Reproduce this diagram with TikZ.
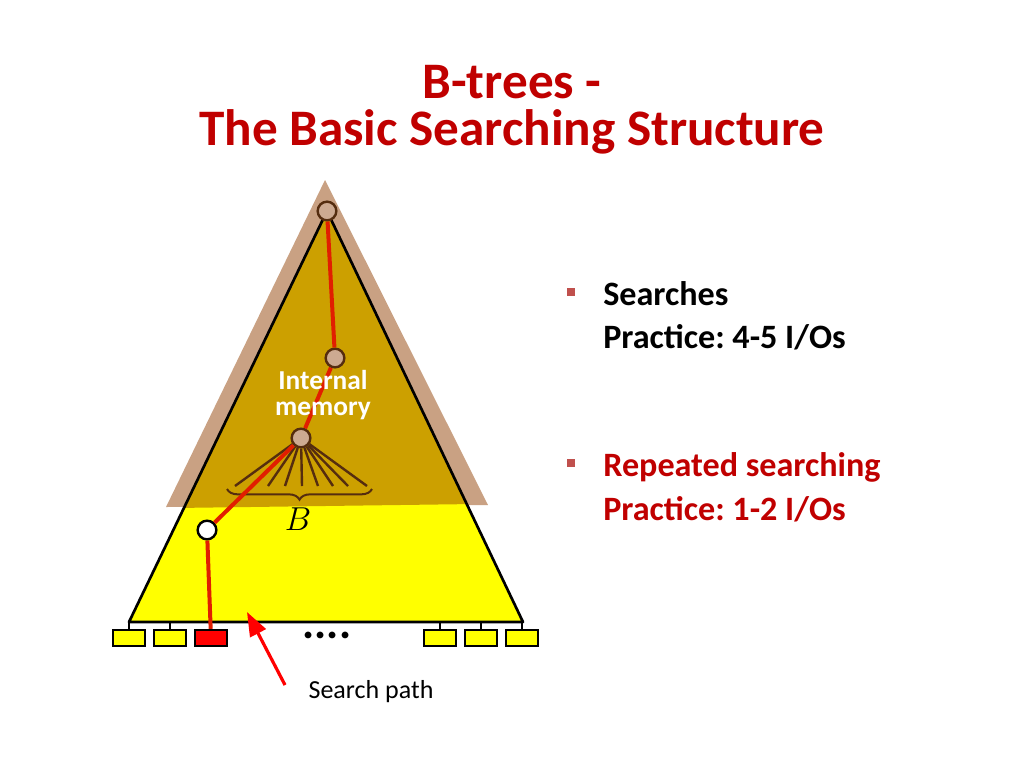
\documentclass[tikz,border=0pt]{standalone}
\usepackage{fontspec}
\setmainfont{Carlito}
\usetikzlibrary{arrows.meta,decorations.pathreplacing}
\definecolor{tanbg}{RGB}{201,161,131}
\definecolor{gold}{RGB}{204,160,0}
\definecolor{leafyellow}{RGB}{255,255,0}
\definecolor{darkbrown}{RGB}{85,45,15}
\definecolor{nodetan}{RGB}{205,170,145}
\definecolor{pathred}{RGB}{225,30,0}
\definecolor{titlered}{RGB}{192,0,0}
\definecolor{bulletred}{RGB}{192,80,77}
\frenchspacing
\begin{document}
\begin{tikzpicture}[x=0.75pt,y=-0.75pt,
  title/.style={anchor=base,text=titlered,font=\bfseries\fontsize{38.4}{46}\selectfont},
  bullettext/.style={anchor=base west,inner sep=0pt,font=\bfseries\fontsize{25.6}{30}\selectfont},
  bulletmark/.style={fill=bulletred,minimum size=6pt,inner sep=0pt},
  treenode/.style={circle,draw=darkbrown,fill=nodetan,line width=1.8pt,minimum size=14pt,inner sep=0pt},
  leafnode/.style={draw=black,fill=leafyellow,line width=1.8pt,minimum width=24pt,minimum height=12pt,inner sep=0pt},
  fanline/.style={draw=darkbrown,line width=1.8pt},
  pathline/.style={draw=pathred,line width=3pt}]
\useasboundingbox (0,0) rectangle (1024,768);

% title
\node[title] (ttl1) at (512,98) {B-trees -};
\node[title] (ttl2) at (512,145) {The Basic Searching Structure};

% tree outline and memory levels
\fill[tanbg] (325,180) -- (488,505) -- (166,507) -- cycle;
\fill[leafyellow] (327,211) -- (523,622) -- (129,622) -- cycle;
\begin{scope}
  \clip (327,211) -- (523,622) -- (129,622) -- cycle;
  \fill[gold] (100,150) -- (550,150) -- (550,503) -- (100,509) -- cycle;
\end{scope}
\draw[line width=2pt,line join=round] (327,211) -- (523,622) -- (129,622) -- cycle;

% leaves
\node[leafnode] (l1) at (129,638) {};
\node[leafnode] (l2) at (170,638) {};
\node[leafnode,fill=red] (hit) at (211,638) {};
\node[leafnode] (r3) at (440,638) {};
\node[leafnode] (r2) at (481,638) {};
\node[leafnode] (r1) at (522,638) {};
\foreach \l in {l1,l2,r3,r2,r1}
  \draw[line width=1.4pt] (\l.north) -- +(0,-8);
\node[anchor=base,font=\bfseries\fontsize{34}{34}\selectfont] (dots) at (327,638) {....};

% nodes on the search path
\node[treenode] (root) at (327,211) {};
\node[treenode] (mid) at (335,358) {};
\node[treenode] (inner) at (301,438) {};
\node[treenode,draw=black,fill=white] (low) at (207,530) {};

% fan of children
\foreach \x in {235,268,285,302,318,333,348,367}
  \draw[fanline] (inner) -- (\x,486);
\draw[darkbrown,line width=1.5pt,decorate,decoration={brace,mirror,amplitude=8pt}] (227,489) -- (372,489);
\node[font=\fontsize{25}{25}\selectfont] (bsize) at (298,519) {$B$};

\draw[pathline] (root) -- (mid) -- (inner) -- (low) -- (hit);
\node[text=white,align=center,inner sep=0pt,font=\bfseries\fontsize{20.5}{19.5}\selectfont] (mem) at (323,395) {Internal\\memory};

% search path label
\node[font=\fontsize{19.5}{20}\selectfont] (searchlbl) at (371,692) {Search path};
\coordinate (tail) at (285,685);
\coordinate (tip) at (247,612);
\draw[red,line width=2.4pt,-{Triangle[length=18pt,width=13pt]}] (tail) -- (tip);

% bullets
\node[bulletmark] (b1) at (571,292) {};
\node[bullettext] (s1) at (603,305) {Searches};
\node[bullettext] (p1) at (603,348) {Practice: 4-5 I/Os};
\node[bulletmark] (b2) at (571,463) {};
\node[bullettext,text=titlered] (s2) at (603,476) {Repeated searching};
\node[bullettext,text=titlered] (p2) at (603,520) {Practice: 1-2 I/Os};
\end{tikzpicture}
\end{document}
